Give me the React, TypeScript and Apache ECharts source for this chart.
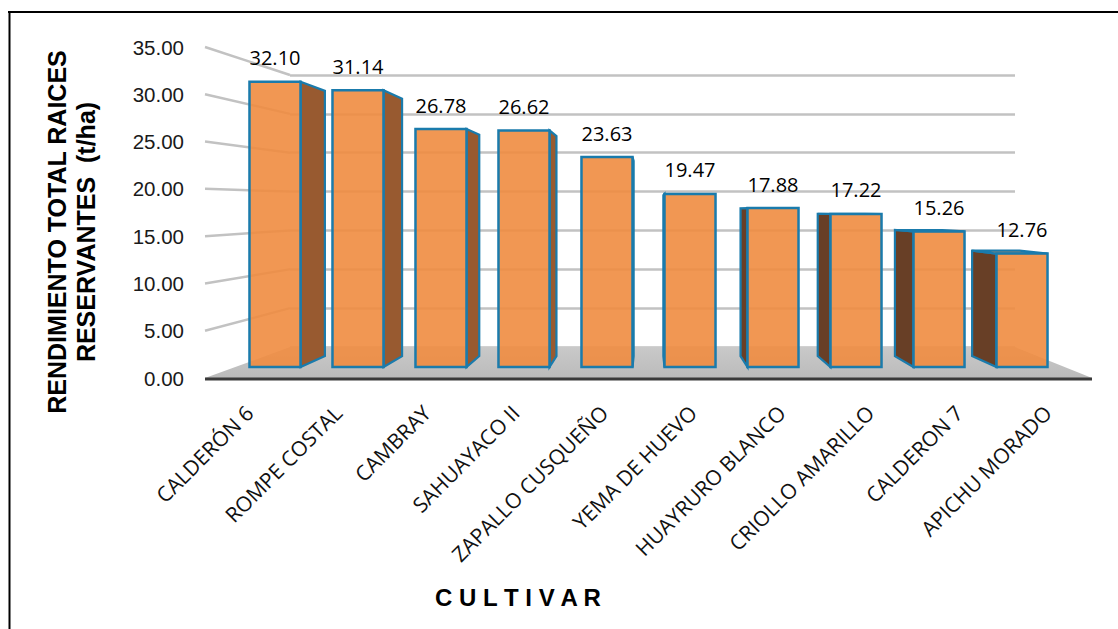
import React, { useEffect, useRef } from 'react';
import * as echarts from 'echarts';

const categories = [
  'CALDERÓN 6',
  'ROMPE COSTAL',
  'CAMBRAY',
  'SAHUAYACO II',
  'ZAPALLO CUSQUEÑO',
  'YEMA DE HUEVO',
  'HUAYRURO BLANCO',
  'CRIOLLO AMARILLO',
  'CALDERON 7',
  'APICHU MORADO',
];
const yields = [32.1, 31.14, 26.78, 26.62, 23.63, 19.47, 17.88, 17.22, 15.26, 12.76];
const yMin = 0;
const yMax = 35;
const yStep = 5;
const yAxisTitleLines = ['RENDIMIENTO TOTAL RAICES', 'RESERVANTES  (t/ha)'];
const xAxisTitle = 'C U L T I V A R';

const EDGE = '#1A7BAC';
const FRONT_FILL = 'rgba(240,140,64,0.9)';
const SIDE_LIGHT = '#985A30';
const SIDE_DARK = '#683F26';
const TOP_FILL = '#E58A48';

export default function App() {
  const ref = useRef<HTMLDivElement>(null);

  useEffect(() => {
    const chart = echarts.init(ref.current as HTMLDivElement, null, { renderer: 'svg' });

    const FRONT = { left: 205, top: 47, width: 887, height: 331 };
    const BACK = { left: 290, top: 75, width: 725, height: 272 };
    const BARS = { left: 233.5, top: 56, width: 830, height: 311 };

    const valueAxisBase = { type: 'value', min: yMin, max: yMax, interval: yStep };

    const option: any = {
      animation: false,
      backgroundColor: '#ffffff',
      grid: [
        { ...FRONT, containLabel: false },
        { ...BACK, containLabel: false },
        { ...BARS, containLabel: false },
      ],
      xAxis: [
        {
          gridIndex: 0,
          type: 'category',
          data: categories,
          axisLine: { show: false },
          axisTick: { show: false },
          splitLine: { show: false },
          axisLabel: {
            interval: 0,
            rotate: 45,
            margin: 31,
            fontSize: 21,
            fontFamily: 'Open Sans',
            color: '#111111',
          },
        },
        { gridIndex: 1, type: 'category', data: categories, show: false },
        { gridIndex: 2, type: 'category', data: categories, show: false },
      ],
      yAxis: [
        {
          gridIndex: 0,
          ...valueAxisBase,
          axisLine: { show: false },
          axisTick: { show: false },
          splitLine: { show: false },
          axisLabel: {
            margin: 21,
            fontSize: 20.5,
            fontFamily: 'Liberation Sans, Arial',
            color: '#1a1a1a',
            formatter: (v: number) => v.toFixed(2),
          },
        },
        {
          gridIndex: 1,
          ...valueAxisBase,
          axisLine: { show: false },
          axisTick: { show: false },
          axisLabel: { show: false },
          splitLine: { show: true, lineStyle: { color: '#C2C2C2', width: 2.5 } },
        },
        {
          gridIndex: 2,
          ...valueAxisBase,
          show: false,
        },
      ],
      series: [
        {
          type: 'custom',
          xAxisIndex: 2,
          yAxisIndex: 2,
          z: 5,
          data: yields.map((v, i) => [i, v]),
          encode: { x: 0, y: 1 },
          renderItem: (params: any, api: any) => {
            const idx = api.value(0);
            const val = api.value(1);
            const top = api.coord([idx, val]);
            const base = api.coord([idx, 0]);
            const band = api.size([1, 0])[0];
            const w = band * 0.615;
            const cs = params.coordSys;
            const vpX = cs.x + cs.width / 2;
            const vpY = cs.y + cs.height * 0.5;
            const K = 0.93;
            const P = (x: number, y: number) => [vpX + (x - vpX) * K, vpY + (y - vpY) * K];
            const x0 = top[0] - w / 2;
            const x1 = top[0] + w / 2;
            const yT = top[1];
            const yB = base[1];
            const children: any[] = [];
            if (x1 < vpX) {
              children.push({
                type: 'polygon',
                shape: { points: [[x1, yT], P(x1, yT), P(x1, yB), [x1, yB]] },
                style: { fill: SIDE_LIGHT, stroke: EDGE, lineWidth: 2.2 },
              });
            }
            if (x0 > vpX) {
              children.push({
                type: 'polygon',
                shape: { points: [[x0, yT], P(x0, yT), P(x0, yB), [x0, yB]] },
                style: { fill: SIDE_DARK, stroke: EDGE, lineWidth: 2.2 },
              });
            }
            if (yT > vpY) {
              children.push({
                type: 'polygon',
                shape: { points: [[x0, yT], [x1, yT], P(x1, yT), P(x0, yT)] },
                style: { fill: TOP_FILL, stroke: EDGE, lineWidth: 2.2 },
              });
            }
            children.push({
              type: 'rect',
              shape: { x: x0, y: yT, width: w, height: yB - yT },
              style: { fill: FRONT_FILL, stroke: EDGE, lineWidth: 2.5 },
            });
            children.push({
              type: 'text',
              x: top[0],
              y: yT - 24,
              style: {
                text: val.toFixed(2),
                align: 'center',
                verticalAlign: 'middle',
                fontSize: 20,
                fontFamily: 'Open Sans',
                fill: '#000000',
              },
            });
            return { type: 'group', children };
          },
        },
      ],
    };

    chart.setOption(option);

    const fy = (v: number) => chart.convertToPixel({ yAxisIndex: 0 } as any, v) as unknown as number;
    const by = (v: number) => chart.convertToPixel({ yAxisIndex: 1 } as any, v) as unknown as number;
    const fy0 = fy(0);
    const by0 = by(0);
    const graphics: any[] = [];
    graphics.push({
      type: 'polygon',
      z: 1,
      silent: true,
      shape: {
        points: [
          [FRONT.left, fy0],
          [FRONT.left + FRONT.width, fy0],
          [BACK.left + BACK.width, by0],
          [BACK.left, by0],
        ],
      },
      style: {
        fill: new echarts.graphic.LinearGradient(0, 0, 0, 1, [
          { offset: 0, color: '#C9C9C9' },
          { offset: 1, color: '#BBBBBB' },
        ]),
      },
    });
    graphics.push({
      type: 'line',
      z: 1,
      silent: true,
      shape: { x1: FRONT.left, y1: fy0 + 1, x2: FRONT.left + FRONT.width, y2: fy0 + 1 },
      style: { stroke: '#3A3A3A', lineWidth: 3 },
    });
    for (let v = yMin + yStep; v <= yMax; v += yStep) {
      graphics.push({
        type: 'line',
        z: 1,
        silent: true,
        shape: { x1: FRONT.left, y1: fy(v), x2: BACK.left, y2: by(v) },
        style: { stroke: '#C2C2C2', lineWidth: 2.5 },
      });
    }
    graphics.push({
      type: 'text',
      z: 10,
      x: 71,
      y: 232,
      rotation: Math.PI / 2,
      style: {
        text: yAxisTitleLines.join('\n'),
        align: 'center',
        verticalAlign: 'middle',
        fontSize: 25,
        fontWeight: 'bold',
        fontFamily: 'Liberation Sans, Arial',
        lineHeight: 29,
        fill: '#000000',
      },
    });
    graphics.push({
      type: 'text',
      z: 10,
      x: 518,
      y: 597,
      style: {
        text: xAxisTitle,
        align: 'center',
        verticalAlign: 'middle',
        fontSize: 24,
        fontWeight: 'bold',
        fontFamily: 'Liberation Sans, Arial',
        fill: '#000000',
      },
    });
    graphics.push({
      type: 'line',
      z: 10,
      silent: true,
      shape: { x1: 8, y1: 12, x2: 1118, y2: 12 },
      style: { stroke: '#000000', lineWidth: 2 },
    });
    graphics.push({
      type: 'line',
      z: 10,
      silent: true,
      shape: { x1: 9.5, y1: 11, x2: 9.5, y2: 629 },
      style: { stroke: '#000000', lineWidth: 2 },
    });

    chart.setOption({ graphic: graphics });

    return () => {
      chart.dispose();
    };
  }, []);

  return (
    <div
      ref={ref}
      style={{ position: 'absolute', left: 0, top: 0, width: 1118, height: 629 }}
    />
  );
}
